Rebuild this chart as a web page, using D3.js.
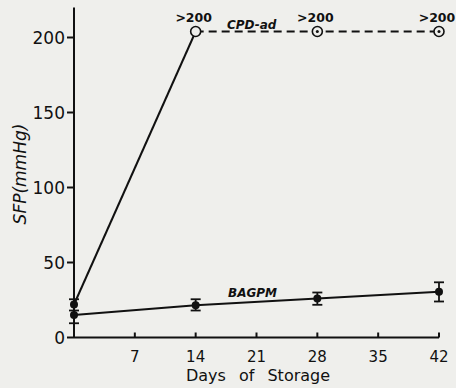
<!DOCTYPE html>
<html><head><meta charset="utf-8">
<script src="https://cdn.jsdelivr.net/npm/d3@7"></script>
<style>html,body{margin:0;padding:0;background:#efefec;}svg{display:block;}</style>
</head><body>
<script>
const days = [0, 14, 28, 42];
const xTicks = [7, 14, 21, 28, 35, 42];
const yTicks = [0, 50, 100, 150, 200];
const cpdValues = [22, 204, 204, 204];
const cpdLabels = ["", ">200", ">200", ">200"];
const bagValues = [15, 21.5, 26, 30.5];
const bagLow = [9.5, 18, 21.8, 24];
const bagHigh = [18, 25.5, 30, 36.8];
const cpdLow0 = 20, cpdHigh0 = 25.5;

const W = 456, H = 388;
const svg = d3.select("body").append("svg").attr("width", W).attr("height", H);
const x = d3.scaleLinear().domain([0, 42]).range([74, 439]);
const y = d3.scaleLinear().domain([0, 200]).range([337.5, 37.5]);
const ink = "#111";
const font = "'DejaVu Sans', sans-serif";

// axes
svg.append("line").attr("x1", x(0)).attr("x2", x(0)).attr("y1", y(0)).attr("y2", y(220))
  .attr("stroke", ink).attr("stroke-width", 2);
svg.append("line").attr("x1", x(0)).attr("x2", x(42)).attr("y1", y(0)).attr("y2", y(0))
  .attr("stroke", ink).attr("stroke-width", 2);
svg.selectAll(".yt").data(yTicks).enter().append("line")
  .attr("x1", x(0) - 7).attr("x2", x(0)).attr("y1", d => y(d)).attr("y2", d => y(d))
  .attr("stroke", ink).attr("stroke-width", 2);
svg.selectAll(".ytl").data(yTicks).enter().append("text")
  .attr("x", x(0) - 9).attr("y", d => y(d) + 6).attr("text-anchor", "end")
  .attr("font-family", font).attr("font-size", 17).attr("fill", ink).text(d => d);
svg.selectAll(".xt").data(xTicks).enter().append("line")
  .attr("x1", d => x(d)).attr("x2", d => x(d)).attr("y1", y(0)).attr("y2", y(0) - 5)
  .attr("stroke", ink).attr("stroke-width", 2);
svg.selectAll(".xtl").data(xTicks).enter().append("text")
  .attr("x", d => x(d)).attr("y", y(0) + 24).attr("text-anchor", "middle")
  .attr("font-family", font).attr("font-size", 15).attr("fill", ink).text(d => d);

svg.append("text").attr("x", 258).attr("y", 381).attr("text-anchor", "middle")
  .attr("font-family", font).attr("font-size", 16).attr("fill", ink)
  .attr("word-spacing", 8).text("Days of Storage");
svg.append("text").attr("transform", "translate(26,174) rotate(-90)").attr("text-anchor", "middle")
  .attr("font-family", font).attr("font-size", 17).attr("font-style", "italic").attr("fill", ink)
  .text("SFP(mmHg)");

// CPD-ad lines
svg.append("line").attr("x1", x(days[0])).attr("y1", y(cpdValues[0]))
  .attr("x2", x(days[1])).attr("y2", y(cpdValues[1])).attr("stroke", ink).attr("stroke-width", 2);
const dashLine = d3.line().x((d, i) => x(days[i + 1])).y(d => y(d));
svg.append("path").attr("d", dashLine(cpdValues.slice(1))).attr("fill", "none")
  .attr("stroke", ink).attr("stroke-width", 1.8).attr("stroke-dasharray", "8,5");

// BAGPM line
const line = d3.line().x((d, i) => x(days[i])).y(d => y(d));
svg.append("path").attr("d", line(bagValues)).attr("fill", "none").attr("stroke", ink).attr("stroke-width", 2);

// error bars BAGPM
days.forEach((d, i) => {
  const cx = x(d);
  svg.append("line").attr("x1", cx).attr("x2", cx).attr("y1", y(bagLow[i])).attr("y2", y(bagHigh[i]))
    .attr("stroke", ink).attr("stroke-width", 1.8);
  [bagLow[i], bagHigh[i]].forEach(v => svg.append("line").attr("x1", cx - 5).attr("x2", cx + 5)
    .attr("y1", y(v)).attr("y2", y(v)).attr("stroke", ink).attr("stroke-width", 1.8));
  svg.append("circle").attr("cx", cx).attr("cy", y(bagValues[i])).attr("r", 4).attr("fill", ink);
});
// CPD day 0 marker
svg.append("line").attr("x1", x(0)).attr("x2", x(0)).attr("y1", y(cpdLow0)).attr("y2", y(cpdHigh0))
  .attr("stroke", ink).attr("stroke-width", 1.8);
svg.append("line").attr("x1", x(0) - 5).attr("x2", x(0) + 5).attr("y1", y(cpdHigh0)).attr("y2", y(cpdHigh0))
  .attr("stroke", ink).attr("stroke-width", 1.8);
svg.append("circle").attr("cx", x(0)).attr("cy", y(cpdValues[0])).attr("r", 4).attr("fill", ink);

// CPD open circles
days.slice(1).forEach((d, j) => {
  const i = j + 1;
  svg.append("circle").attr("cx", x(d)).attr("cy", y(cpdValues[i])).attr("r", 5)
    .attr("fill", "#efefec").attr("stroke", ink).attr("stroke-width", 1.6);
  if (i > 1) svg.append("circle").attr("cx", x(d)).attr("cy", y(cpdValues[i])).attr("r", 1.5).attr("fill", ink);
  svg.append("text").attr("x", x(d) - 2).attr("y", y(cpdValues[i]) - 10).attr("text-anchor", "middle")
    .attr("font-family", font).attr("font-size", 12.5).attr("font-weight", "bold").attr("fill", ink)
    .text(cpdLabels[i]);
});

svg.append("text").attr("x", 227).attr("y", 29).attr("font-family", font).attr("font-size", 12)
  .attr("font-style", "italic").attr("font-weight", "bold").attr("fill", ink).text("CPD-ad");
svg.append("text").attr("x", 228).attr("y", 297).attr("font-family", font).attr("font-size", 12)
  .attr("font-style", "italic").attr("font-weight", "bold").attr("fill", ink).text("BAGPM");
</script>
</body></html>
